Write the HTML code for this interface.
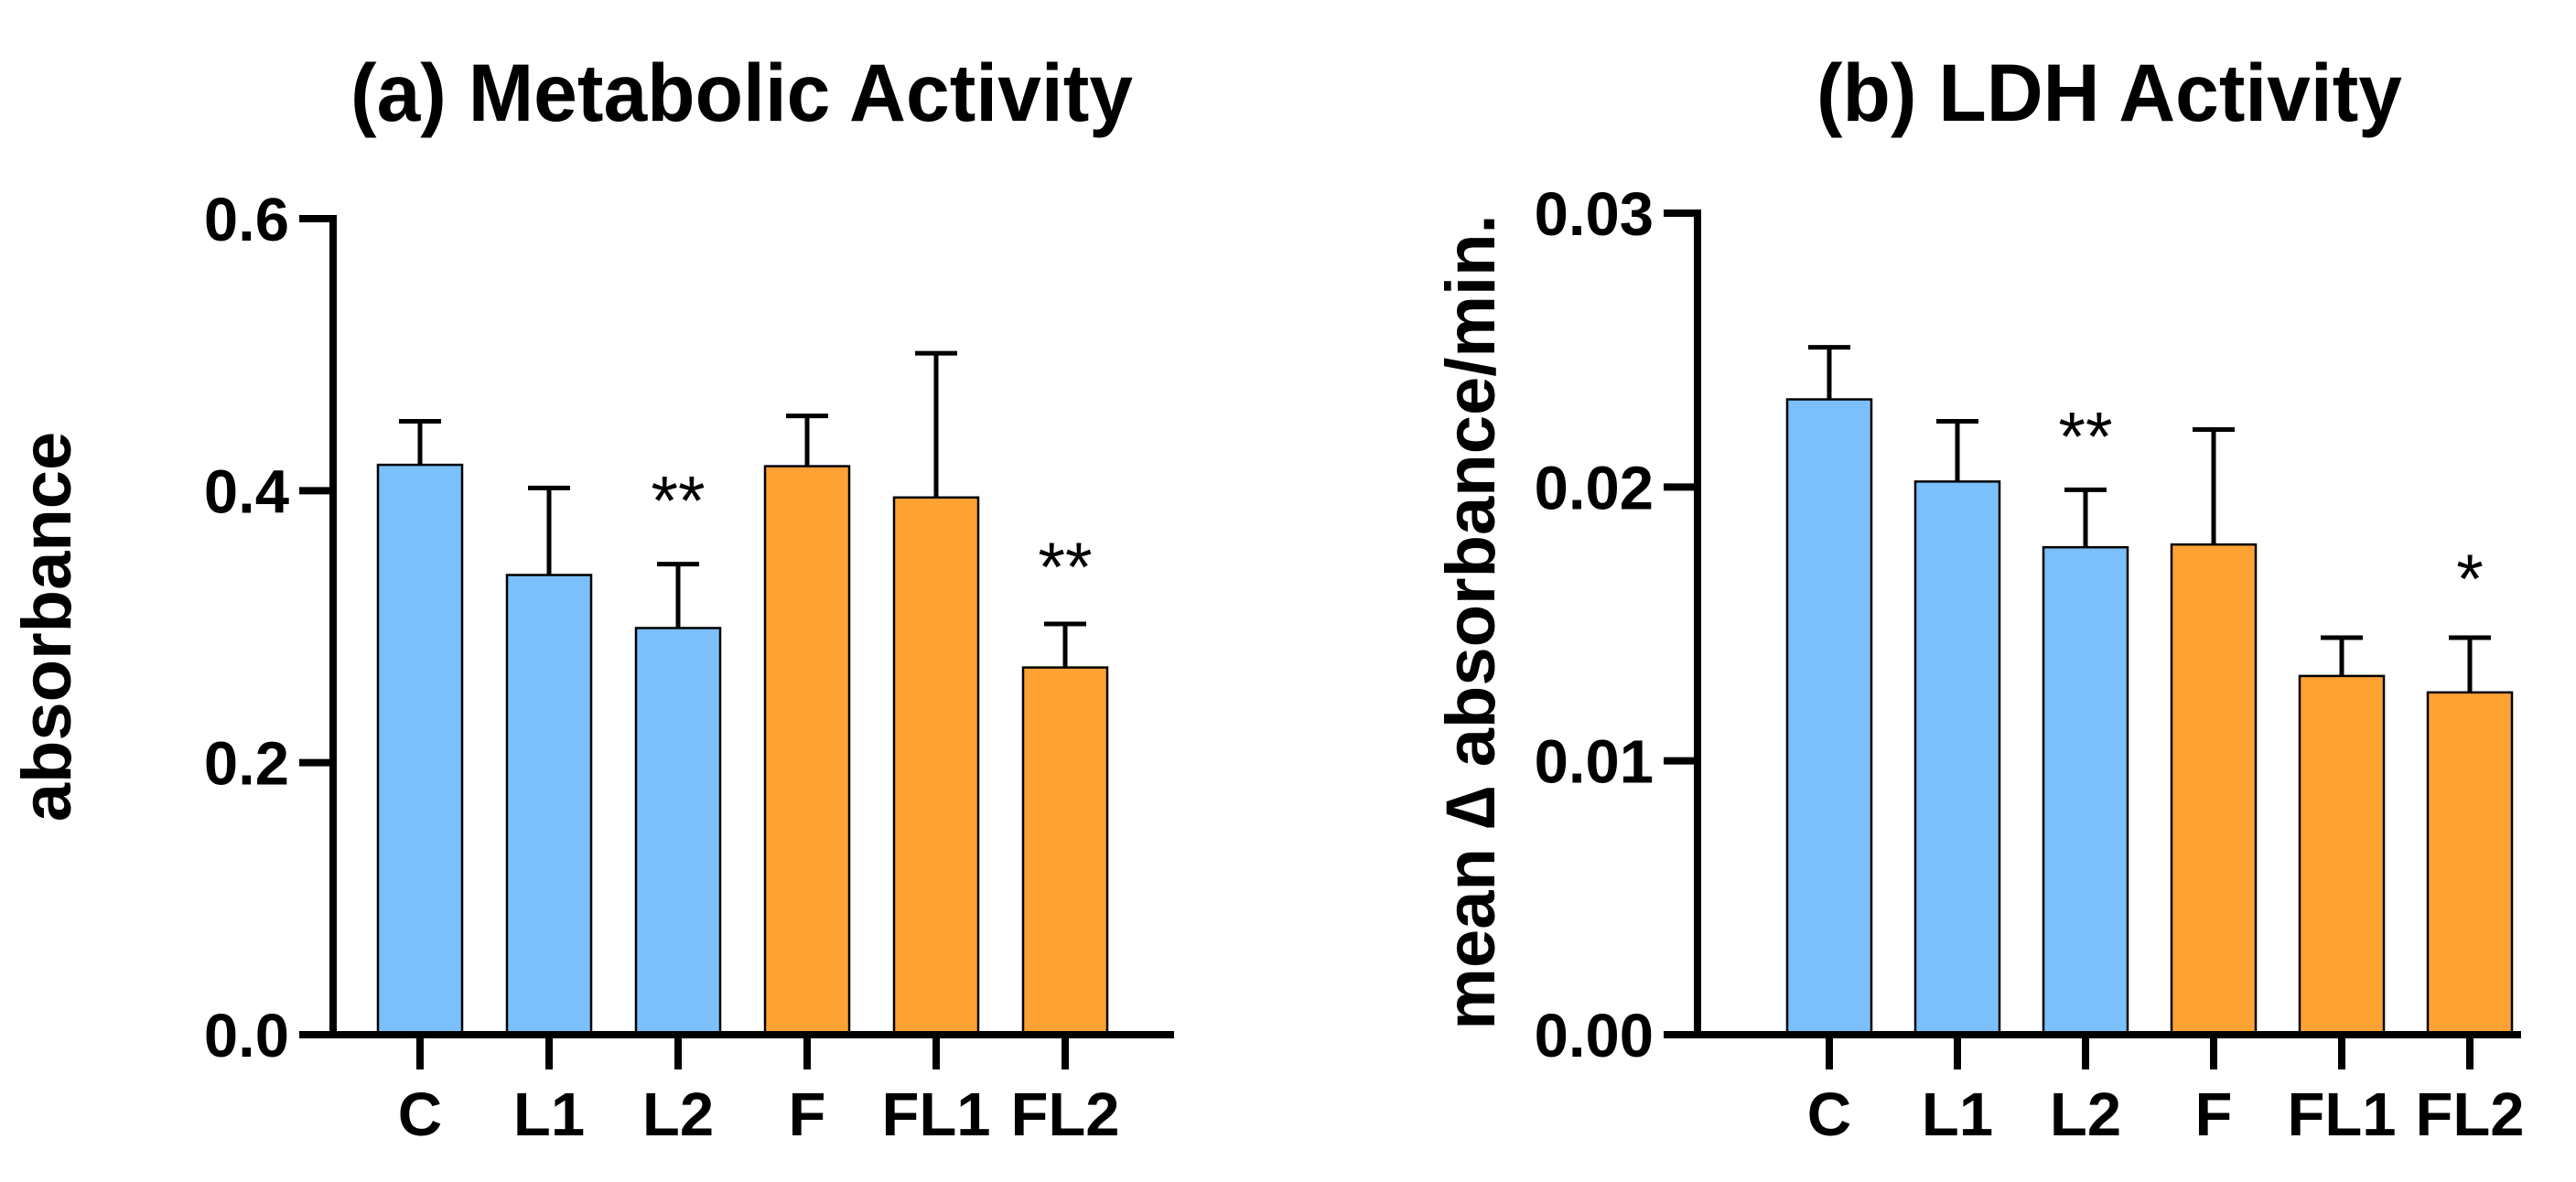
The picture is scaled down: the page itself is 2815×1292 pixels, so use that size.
<!DOCTYPE html>
<html><head><meta charset="utf-8"><style>
html,body{margin:0;padding:0;background:#fff;}
svg{display:block;font-family:"Liberation Sans",Arial,sans-serif;font-weight:bold;}
</style></head><body>
<svg id="fig" width="2815" height="1292" viewBox="0 0 2815 1292" xmlns="http://www.w3.org/2000/svg">
<text x="383" y="132" font-size="89" textLength="855" lengthAdjust="spacingAndGlyphs">(a) Metabolic Activity</text>
<text x="1985" y="132" font-size="89" textLength="640" lengthAdjust="spacingAndGlyphs">(b) LDH Activity</text>
<text transform="translate(77,685) rotate(-90)" text-anchor="middle" font-size="76">absorbance</text>
<text transform="translate(1633,680) rotate(-90)" text-anchor="middle" font-size="76">mean ∆ absorbance/min.</text>
<g id="pa"></g>
<g id="pb"></g>
</svg>
<script>
const categories = ["C","L1","L2","F","FL1","FL2"];
const groups = ["ctrl","ctrl","ctrl","treat","treat","treat"];
const metabolicMeans = [0.419,0.338,0.299,0.418,0.395,0.270];
const metabolicErr = [0.032,0.064,0.047,0.037,0.106,0.032];
const metabolicStars = ["","","**","","","**"];
const metabolicStarPos = [0,0,0.398,0,0,0.349];
const metabolicTicks = [0,0.2,0.4,0.6];
const metabolicTickLabels = ["0.0","0.2","0.4","0.6"];
const ldhMeans = [0.0232,0.0202,0.0178,0.0179,0.0131,0.0125];
const ldhErr = [0.0019,0.0022,0.0021,0.0042,0.0014,0.0020];
const ldhStars = ["","","**","","","*"];
const ldhStarPos = [0,0,0.0221,0,0,0.0169];
const ldhTicks = [0,0.01,0.02,0.03];
const ldhTickLabels = ["0.00","0.01","0.02","0.03"];

const NS="http://www.w3.org/2000/svg";
function mk(parent,tag,attrs){const e=document.createElementNS(NS,tag);for(const k in attrs)e.setAttribute(k,attrs[k]);parent.appendChild(e);return e;}
const colors={ctrl:"#7BC0FA",treat:"#FFA234"};

function drawPanel(g,cfg){
  const y=v=>cfg.y0-(v-0)/(cfg.ymax)*(cfg.y0-cfg.ytop);
  const x=i=>cfg.x0+i*cfg.step;
  cfg.means.forEach((m,i)=>{
    const r=mk(g,"rect",{x:x(i)-46,y:y(m),width:92,height:cfg.y0-y(m),fill:colors[groups[i]],stroke:"#000","stroke-width":2.5});
    
    
    const top=y(m+cfg.err[i]);
    const s=mk(g,"line",{x1:x(i),x2:x(i),y1:y(m),y2:top,stroke:"#000","stroke-width":5});
    
    
    const c=mk(g,"line",{x1:x(i)-23,x2:x(i)+23,y1:top,y2:top,stroke:"#000","stroke-width":5});
    
    
    if(cfg.stars[i]){
      const t=mk(g,"text",{x:x(i),y:y(cfg.starPos[i])+34,"text-anchor":"middle","font-size":"76","font-weight":"normal"});
      t.textContent=cfg.stars[i];
      
      
    }
    const tk=mk(g,"line",{x1:x(i),x2:x(i),y1:cfg.y0,y2:cfg.y0+38,stroke:"#000","stroke-width":8});
    
    
    const lb=mk(g,"text",{x:x(i),y:1241,"text-anchor":"middle","font-size":"67"});
    lb.textContent=categories[i];
    
    
  });
  const ya=mk(g,"line",{x1:cfg.ax,x2:cfg.ax,y1:cfg.ytop-4,y2:cfg.y0+4,stroke:"#000","stroke-width":8});
  
  
  const xa=mk(g,"line",{x1:cfg.ax-37,x2:cfg.xend,y1:cfg.y0,y2:cfg.y0,stroke:"#000","stroke-width":8});
  
  
  cfg.ticks.forEach((t,i)=>{
    const l=mk(g,"line",{x1:cfg.ax-37,x2:cfg.ax,y1:y(t),y2:y(t),stroke:"#000","stroke-width":8});
    
    
    const tx=mk(g,"text",{x:cfg.ax-48,y:y(t)+24,"text-anchor":"end","font-size":"67"});
    tx.textContent=cfg.tickLabels[i];
    
    
  });
}
drawPanel(document.getElementById("pa"),{means:metabolicMeans,err:metabolicErr,stars:metabolicStars,starPos:metabolicStarPos,ticks:metabolicTicks,tickLabels:metabolicTickLabels,ymax:0.6,y0:1131,ytop:239,ax:364,x0:459,step:141,xend:1283});
drawPanel(document.getElementById("pb"),{means:ldhMeans,err:ldhErr,stars:ldhStars,starPos:ldhStarPos,ticks:ldhTicks,tickLabels:ldhTickLabels,ymax:0.03,y0:1131,ytop:233,ax:1855,x0:1999,step:140,xend:2755});
</script>
</body></html>
